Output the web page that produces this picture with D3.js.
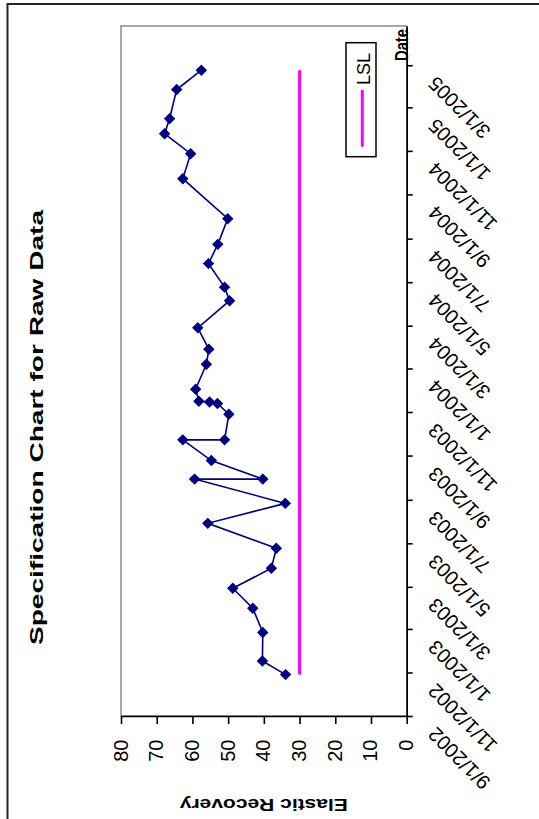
<!DOCTYPE html>
<html>
<head>
<meta charset="utf-8">
<script src="https://cdn.jsdelivr.net/npm/d3@7"></script>
<style>
  html, body { margin: 0; padding: 0; background: #fff; }
  svg { display: block; }
</style>
</head>
<body>
<script>
// ---- data ----
const chartTitle = "Specification Chart for Raw Data";
const valueAxisTitle = "Elastic Recovery";
const dateAxisTitle = "Date";
const legendLabel = "LSL";
const valueTicks = [0, 10, 20, 30, 40, 50, 60, 70, 80];
const valueDomain = [0, 80];
const dateDomain = ["9/1/2002", "4/25/2005"];
const dateTickLabels = ["9/1/2002","11/1/2002","1/1/2003","3/1/2003","5/1/2003","7/1/2003",
  "9/1/2003","11/1/2003","1/1/2004","3/1/2004","5/1/2004","7/1/2004","9/1/2004",
  "11/1/2004","1/1/2005","3/1/2005"];
const sampleDates = ["10/29/2002","11/17/2002","12/27/2002","1/30/2003","2/27/2003","3/27/2003",
  "4/24/2003","5/29/2003","6/26/2003","7/30/2003","7/30/2003","8/25/2003","9/23/2003",
  "9/23/2003","10/29/2003","11/13/2003","11/15/2003","11/16/2003","12/3/2003","1/7/2004",
  "1/28/2004","2/27/2004","4/5/2004","4/24/2004","5/27/2004","6/23/2004","7/29/2004",
  "9/23/2004","10/28/2004","11/25/2004","12/16/2004","1/26/2005","2/22/2005"];
const elasticRecovery = [33.9,40.4,40.3,43.1,48.7,37.9,36.5,55.7,34.0,59.4,40.3,54.7,62.7,
  51.0,49.8,53.0,55.2,58.2,59.1,56.1,55.4,58.5,49.6,51.0,55.5,52.9,50.1,62.7,60.5,67.8,
  66.4,64.4,57.5];
const lslValue = 30;

// ---- drawing ----
const W = 539, H = 819;
const parse = d3.timeParse("%m/%d/%Y");
const svg = d3.select("body").append("svg").attr("width", W).attr("height", H);
svg.append("rect").attr("width", W).attr("height", H).attr("fill", "#fff");

// outer chart-area border (only top/left edges visible)
svg.append("rect").attr("x", 7.5).attr("y", 4).attr("width", 700).attr("height", 1000)
  .attr("fill", "none").attr("stroke", "#222").attr("stroke-width", 2);

const plot = { left: 121, right: 406.7, top: 26, bottom: 716 };

const x = d3.scaleLinear().domain(valueDomain).range([plot.right, plot.left]);
const y = d3.scaleTime().domain(dateDomain.map(parse)).range([plot.bottom, plot.top]);

// plot area border (gray)
svg.append("rect").attr("x", plot.left).attr("y", plot.top)
  .attr("width", plot.right - plot.left).attr("height", plot.bottom - plot.top)
  .attr("fill", "none").attr("stroke", "#8a8a8a").attr("stroke-width", 1.5);

// value axis (bottom)
const gx = svg.append("g").attr("transform", `translate(0,${plot.bottom})`)
  .call(d3.axisBottom(x).tickValues(valueTicks).tickSize(8).tickSizeOuter(0));
gx.select(".domain").attr("stroke", "#000").attr("stroke-width", 1.6);
gx.selectAll(".tick line").attr("stroke", "#000").attr("stroke-width", 1.6);
gx.selectAll(".tick text")
  .attr("x", null).attr("y", null).attr("dy", null)
  .attr("text-anchor", "end")
  .attr("transform", "translate(6,23.5) rotate(-90)")
  .attr("font-family", "Liberation Sans, Arial, sans-serif")
  .attr("font-size", 20).attr("fill", "#000");

// date axis (right side)
const dateTicks = dateTickLabels.map(parse);
const fmt = d3.timeFormat("%-m/%-d/%Y");
const gy = svg.append("g").attr("transform", `translate(${plot.right},0)`)
  .call(d3.axisRight(y).tickValues(dateTicks).tickFormat(fmt).tickSize(6).tickSizeOuter(0));
gy.select(".domain").attr("stroke", "#000").attr("stroke-width", 1.6);
gy.selectAll(".tick line").attr("stroke", "#000").attr("stroke-width", 1.6);
gy.selectAll(".tick text")
  .attr("x", null).attr("y", null).attr("dy", null)
  .attr("text-anchor", "end")
  .attr("transform", "translate(30,9.5) rotate(225)")
  .attr("font-family", "Liberation Sans, Arial, sans-serif")
  .attr("font-size", 20).attr("fill", "#000");

// LSL line
const dates = sampleDates.map(parse);
const dExt = d3.extent(dates);
svg.append("line")
  .attr("x1", x(lslValue)).attr("x2", x(lslValue))
  .attr("y1", y(dExt[0])).attr("y2", y(dExt[1]))
  .attr("stroke", "#ff00ff").attr("stroke-width", 3);

// data series
const pts = dates.map((d, i) => ({ d, v: elasticRecovery[i] }));
svg.append("path").datum(pts)
  .attr("d", d3.line().x(p => x(p.v)).y(p => y(p.d)))
  .attr("fill", "none").attr("stroke", "#000080").attr("stroke-width", 1.6);
const diamond = d3.symbol().type(d3.symbolSquare).size(50);
svg.append("g").selectAll("path").data(pts).join("path")
  .attr("d", diamond)
  .attr("transform", p => `translate(${x(p.v)},${y(p.d)}) rotate(45)`)
  .attr("fill", "#000080").attr("stroke", "#000080").attr("stroke-width", 1);

// titles
svg.append("text")
  .attr("transform", "translate(43,427.5) rotate(-90)")
  .attr("text-anchor", "middle")
  .attr("font-family", "Liberation Sans, Arial, sans-serif")
  .attr("font-weight", "bold").attr("font-size", 18)
  .attr("textLength", 435).attr("lengthAdjust", "spacingAndGlyphs")
  .text(chartTitle);

svg.append("text")
  .attr("transform", `translate(${(plot.left + plot.right) / 2},798.5) rotate(180)`)
  .attr("text-anchor", "middle")
  .attr("font-family", "Liberation Sans, Arial, sans-serif")
  .attr("font-weight", "bold").attr("font-size", 17)
  .attr("textLength", 168).attr("lengthAdjust", "spacingAndGlyphs")
  .text(valueAxisTitle);

svg.append("text")
  .attr("transform", "translate(407.5,61) rotate(-90)")
  .attr("text-anchor", "start")
  .attr("font-family", "Liberation Sans, Arial, sans-serif")
  .attr("font-weight", "bold").attr("font-size", 18)
  .attr("textLength", 32).attr("lengthAdjust", "spacingAndGlyphs")
  .text(dateAxisTitle);

// legend
const lg = svg.append("g");
lg.append("rect").attr("x", 346).attr("y", 42.7).attr("width", 30).attr("height", 114)
  .attr("fill", "#fff").attr("stroke", "#000").attr("stroke-width", 1.5);
lg.append("line").attr("x1", 362.3).attr("x2", 362.3).attr("y1", 90).attr("y2", 146.7)
  .attr("stroke", "#ff00ff").attr("stroke-width", 3);
lg.append("text")
  .attr("transform", "translate(370,85) rotate(-90)")
  .attr("text-anchor", "start")
  .attr("font-family", "Liberation Sans, Arial, sans-serif")
  .attr("font-size", 18)
  .text(legendLabel);
</script>
</body>
</html>
